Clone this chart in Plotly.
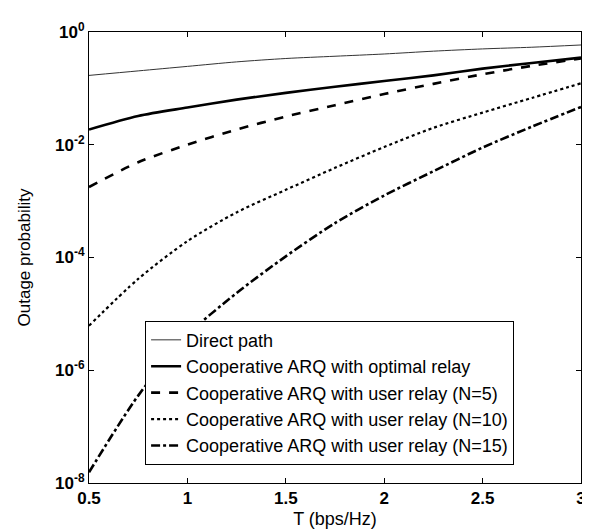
import numpy as np
import plotly.graph_objects as go

# Data (x in bps/Hz, y as log10 of outage probability)
T = [0.5, 0.75, 1.0, 1.25, 1.5, 1.75, 2.0, 2.25, 2.5, 2.75, 3.0]
direct_log10 = [-0.77, -0.69, -0.61, -0.53, -0.47, -0.43, -0.39, -0.34, -0.30, -0.27, -0.23]
optimal_log10 = [-1.73, -1.49, -1.34, -1.20, -1.08, -0.97, -0.87, -0.77, -0.65, -0.55, -0.455]
n5_log10 = [-2.75, -2.31, -2.00, -1.73, -1.50, -1.30, -1.10, -0.92, -0.75, -0.60, -0.47]
n10_log10 = [-5.21, -4.38, -3.71, -3.20, -2.80, -2.41, -2.04, -1.70, -1.43, -1.17, -0.91]
n15_log10 = [-7.81, -6.45, -5.38, -4.63, -3.98, -3.39, -2.90, -2.47, -2.05, -1.68, -1.33]

x_ticks = [0.5, 1, 1.5, 2, 2.5, 3]
x_ticklabels = ["0.5", "1", "1.5", "2", "2.5", "3"]
y_ticks = [1e-8, 1e-6, 1e-4, 1e-2, 1e0]
y_ticklabels = ["10<sup>-8</sup>", "10<sup>-6</sup>", "10<sup>-4</sup>", "10<sup>-2</sup>", "10<sup>0</sup>"]

names = [
    "Direct path",
    "Cooperative ARQ with optimal relay",
    "Cooperative ARQ with user relay (N=5)",
    "Cooperative ARQ with user relay (N=10)",
    "Cooperative ARQ with user relay (N=15)",
]
series = [direct_log10, optimal_log10, n5_log10, n10_log10, n15_log10]
styles = [("solid", 1, "#333333"), ("solid", 2.6, "black"), ("dash", 2.6, "black"),
          ("dot", 2.2, "black"), ("dashdot", 2.6, "black")]

fig = go.Figure()
for i, (nm, s, (dash, w, c)) in enumerate(zip(names, series, styles)):
    fig.add_trace(go.Scatter(
        x=T, y=10 ** np.array(s), mode="lines", name=nm,
        line=dict(color=c, width=w, dash=dash, shape="spline", smoothing=0.8),
        legendgroup=f"g{i}",
    ))

font = "Liberation Sans, Arial, sans-serif"
fig.update_layout(
    width=590, height=529,
    margin=dict(l=81, r=17, t=24, b=48),
    paper_bgcolor="white", plot_bgcolor="white",
    font=dict(family=font, size=17, color="black"),
    showlegend=True,
    legend=dict(
        x=0.114, y=0.36, xanchor="left", yanchor="top",
        bgcolor="white", bordercolor="black", borderwidth=1,
        font=dict(size=18), traceorder="grouped", tracegroupgap=0,
    ),
    xaxis=dict(
        range=[0.5, 3], tickvals=x_ticks, ticktext=x_ticklabels,
        ticks="inside", ticklen=5, tickcolor="black",
        showline=True, linecolor="black", linewidth=1, mirror="ticks",
        showgrid=False, zeroline=False,
        title=dict(text="T (bps/Hz)", font=dict(size=18), standoff=4),
        tickfont=dict(size=17, weight="bold"),
    ),
    yaxis=dict(
        type="log", range=[-8, 0], tickvals=y_ticks, ticktext=y_ticklabels,
        ticks="inside", ticklen=5, tickcolor="black",
        showline=True, linecolor="black", linewidth=1, mirror="ticks",
        showgrid=False, zeroline=False,
        title=dict(text="Outage probability", font=dict(size=17), standoff=20),
        tickfont=dict(size=17, weight="bold"),
    ),
)
fig.write_html("out.html")
